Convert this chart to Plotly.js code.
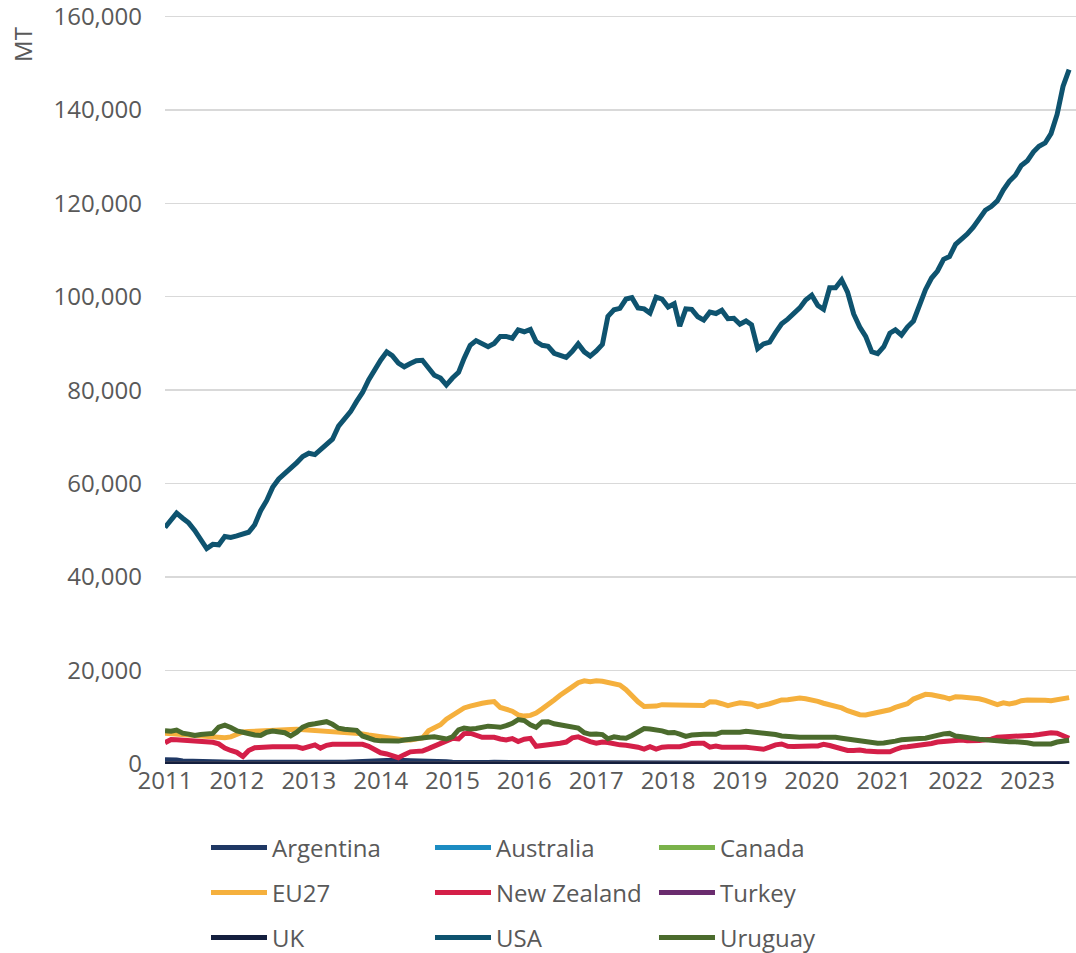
<!DOCTYPE html>
<html><head><meta charset="utf-8">
<script src="https://cdn.plot.ly/plotly-3.0.1.min.js"></script>
<style>html,body{margin:0;padding:0;background:#fff}#chart{width:1076px;height:953px}</style>
</head><body><div id="chart"></div>
<script>
const years = [2011,2012,2013,2014,2015,2016,2017,2018,2019,2020,2021,2022,2023];
const monthNums = ['01','02','03','04','05','06','07','08','09','10','11','12'];
const months = [];
for (const y of years) for (const m of monthNums) months.push(y + '-' + m + '-01');

const argentina = [900,1000,850,650,600,550,600,650,650,550,450,350,
300,300,350,300,250,250,300,350,350,300,300,350,
400,400,450,450,500,450,400,450,450,500,550,600,
700,750,800,800,750,700,700,650,650,600,550,500,
400,350,350,300,300,300,300,350,350,350,350,300,
300,300,250,250,250,300,300,300,300,300,250,250,
200,200,200,200,200,200,250,250,300,300,300,300,
300,300,350,350,300,300,250,250,200,200,150,150,
100,100,100,100,100,100,100,100,100,100,100,100,
100,100,100,100,50,50,50,50,50,50,50,50,
50,50,50,50,50,50,50,50,50,50,50,50,
50,50,50,50,50,50,50,50,50,50,50,50,
50,50,50,50,50,50,50,50];
const australia = [0,0,0,0,0,0,0,0,0,0,0,0,0,0,0,0,0,0,0,0,0,0,0,0,
0,0,0,0,0,0,0,0,0,0,0,0,0,0,0,0,0,0,0,0,0,0,0,0,
0,0,0,0,0,0,0,0,0,0,0,0,0,0,0,0,0,0,0,0,0,0,0,0,
0,0,0,0,0,0,0,0,0,0,0,0,0,0,0,0,0,0,0,0,0,0,0,0,
0,0,0,0,0,0,0,0,0,0,0,0,0,0,0,0,0,0,0,0,0,0,0,0,
0,0,0,0,0,0,0,0,0,0,0,0,0,0,0,0,0,0,0,0,0,0,0,0,
0,0,0,0,0,0,0,0];
const canada = [0,0,0,0,0,0,0,0,0,0,0,0,0,0,0,0,0,0,50,100,150,200,250,250,
250,250,250,200,200,200,200,150,150,150,150,150,150,150,150,150,200,200,200,200,200,200,200,200,
200,200,150,150,150,150,150,150,150,150,100,100,100,100,100,100,100,100,100,100,100,100,50,50,
50,50,50,50,50,50,0,0,0,0,0,0,0,0,0,0,0,0,0,0,0,0,
0,0,0,0,0,0,0,0,0,0,0,0,0,0,0,0,0,0,0,0,0,0,0,0,
0,0,0,0,0,0,0,0,0,0,0,0,0,0,0,0,0,0,0,0,0,0,0,0,
0,0,0,0,0,0,0,0];
const eu27 = [6600,6500,6300,6200,6100,5950,5850,5750,5650,5600,5600,5800,
6300,6850,6950,7050,7100,7150,7200,7250,7300,7400,7420,7350,
7270,7150,7050,6950,6800,6700,6700,6700,6650,6450,6200,6000,
5850,5600,5400,5200,5150,5150,5300,5560,7100,7700,8400,9600,
10400,11300,12000,12400,12800,13000,13200,13350,12100,11700,11300,10500,
10250,10400,10900,11800,12600,13700,14700,15500,16500,17400,17800,17600,
17800,17700,17500,17200,16900,15900,14500,13300,12300,12300,12400,12700,
12700,12650,12600,12550,12500,12450,12500,13300,13250,12900,12500,12800,
13100,12950,12800,12300,12500,12900,13300,13700,13750,14000,14100,13950,
13750,13400,13000,12700,12500,12000,11400,10900,10550,10500,10800,10950,
11150,11600,12100,12500,12900,13900,14400,14900,14800,14650,14300,13950,
14400,14350,14250,14150,13950,13600,13200,12700,13100,12850,13100,13550,
13700,13750,13750,13650,13550,13800,14050,14200];
const newZealand = [4560,5250,5200,5130,5000,4850,4750,4700,4650,4300,3400,2900,
2500,1600,2900,3500,3620,3700,3710,3710,3710,3710,3680,3350,
3800,4100,3400,4000,4210,4250,4280,4270,4250,4210,3800,3000,
2400,2150,1700,1350,2000,2600,2700,2780,3300,3800,4400,4950,
5490,5350,6500,6600,6100,5700,5700,5700,5350,5150,5450,4800,
5300,5490,3800,3900,4210,4350,4450,4700,5600,5800,5200,4800,
4450,4700,4600,4300,4100,4000,3900,3600,3200,3700,3200,3600,
3710,3700,3700,4000,4400,4420,4420,3600,3850,3600,3650,3710,
3650,3560,3450,3300,3150,3600,4100,4280,3800,3750,3850,3850,
3850,3860,4210,3950,3600,3250,2900,2900,3000,2800,2630,2630,
2630,2630,3100,3560,3700,3850,3950,4150,4400,4700,4850,5000,
5250,5150,5000,4920,5050,5200,5300,5750,5800,5700,5750,5800,
5900,6150,6300,6550,6700,6600,6100,5500];
const turkey = [0,0,0,0,0,0,0,0,0,0,0,0,0,0,0,0,0,0,0,0,0,0,0,0,
0,0,0,0,0,0,0,0,0,0,0,0,0,0,0,0,0,0,0,0,0,0,0,0,
0,0,0,0,0,0,0,0,0,0,0,0,0,0,0,0,0,0,0,0,0,0,0,0,
0,0,0,0,0,0,0,0,0,0,0,0,0,0,0,0,0,0,0,0,0,0,0,0,
0,0,0,0,0,0,0,0,0,0,0,0,0,0,0,0,0,0,0,0,0,0,0,0,
0,0,0,0,0,0,0,0,0,0,0,0,0,0,0,0,0,0,0,0,0,0,0,0,
0,0,0,0,0,0,0,0];
const uk = [0,0,0,0,0,0,0,0,0,0,0,0,0,0,0,0,0,0,0,0,0,0,0,0,
0,0,0,0,0,0,0,0,0,0,0,0,0,0,0,0,0,0,0,0,0,0,0,0,
0,0,0,0,0,0,0,0,0,0,0,0,0,0,0,0,0,0,0,0,0,0,0,0,
0,0,0,0,0,0,0,0,0,0,0,0,0,0,0,0,0,0,0,0,0,0,0,0,
0,0,0,0,0,0,0,0,0,0,0,0,0,0,0,0,0,0,0,0,0,0,0,0,
0,0,0,0,0,0,0,0,0,0,0,0,0,0,0,0,0,0,0,0,0,0,0,0,
0,0,0,0,0,0,0,0];
const usa = [50600,52400,53700,52600,51600,50000,48000,46100,47000,46900,48700,48500,
48800,49100,49600,51200,54200,56400,59200,61000,62100,63500,64500,65800,
66500,66200,67200,68400,69500,72300,73700,75400,77600,79500,82200,84500,
86400,88200,87400,85800,85000,85700,86300,86400,84800,83200,82600,81100,
82600,83800,86800,89600,90600,89900,89300,90000,91500,91500,91100,92900,
92500,93000,90400,89600,89400,87900,87500,87000,88300,89900,88200,87300,
88400,89800,95800,97200,97500,99500,99800,97600,97400,96500,99900,99500,
97800,98500,93700,97400,97300,95700,95000,96700,96400,97100,95300,95400,
94100,94800,94000,88900,89900,90300,92300,94200,95200,96400,97600,99300,
100300,98100,97300,101900,101900,103600,101000,96300,93500,91500,88200,87800,
89300,92200,92900,91800,93500,94800,98300,101500,104000,105500,108000,108600,
111200,112200,113400,114900,116900,118500,119300,120500,122900,124700,126000,128100,
129100,131000,132200,132900,134900,139000,145000,148600];
const uruguay = [7100,7000,7250,6600,6400,6100,6300,6500,6550,7900,8300,7800,
7100,6800,6450,6200,6100,6800,7050,6800,6700,6000,6800,7900,
8400,8600,8900,9050,8500,7650,7420,7420,7200,6000,5400,5100,
4950,4850,4800,4900,5150,5350,5500,5630,5700,5840,5600,5350,
5800,7300,7700,7500,7600,7900,8100,8000,7850,8200,8700,9500,
9300,8400,7850,9000,9050,8600,8400,8250,8100,7700,6700,6350,
6420,6300,5400,5800,5600,5500,6100,6900,7600,7500,7400,7100,
6700,6750,6400,5900,6200,6350,6350,6350,6350,6800,6800,6560,
6800,7000,6900,6850,6750,6600,6300,6000,5850,5800,5750,5700,
5700,5750,5800,5840,5700,5500,5350,5100,4800,4640,4550,4450,
4500,4640,4900,5200,5350,5450,5480,5500,5850,6200,6450,6550,
6000,5850,5600,5450,5300,5200,5050,5000,4800,4780,4780,4780,
4550,4300,4280,4280,4300,4700,4850,5100];

const series = [
  {name:'Argentina', y:argentina, color:'#1f3864', legend:'legend'},
  {name:'Australia', y:australia, color:'#1c8cc2', legend:'legend'},
  {name:'Canada', y:canada, color:'#7ab24a', legend:'legend'},
  {name:'EU27', y:eu27, color:'#f5b03d', legend:'legend2'},
  {name:'New Zealand', y:newZealand, color:'#d41f48', legend:'legend2'},
  {name:'Turkey', y:turkey, color:'#6a2c6e', legend:'legend2'},
  {name:'UK', y:uk, color:'#141f3e', legend:'legend3'},
  {name:'USA', y:usa, color:'#0e536f', legend:'legend3'},
  {name:'Uruguay', y:uruguay, color:'#4b6b2d', legend:'legend3'}
];

const traces = series.map(s => ({
  type:'scatter', mode:'lines', name:s.name, x:months.slice(0, s.y.length), y:s.y,
  line:{color:s.color, width:5, shape:'linear'}, legend:s.legend, hoverinfo:'skip'
}));

const legendBase = {orientation:'h', xanchor:'left', yanchor:'middle', x:0.045,
  entrywidth:153, entrywidthmode:'pixels', itemwidth:56, bgcolor:'rgba(0,0,0,0)',
  font:{family:'"Open Sans", sans-serif', size:24, color:'#595959'}, traceorder:'normal'};

const layout = {
  width:1076, height:953,
  margin:{l:165, r:0, t:14, b:189, autoexpand:false},
  paper_bgcolor:'#ffffff', plot_bgcolor:'#ffffff',
  font:{family:'"Open Sans", sans-serif', size:24, color:'#595959'},
  xaxis:{type:'date', range:['2011-01-01','2023-09-05'], tick0:'2011-01-01', dtick:'M12',
    tickformat:'%Y', showgrid:false, zeroline:false, showline:false, ticks:'',
    tickfont:{size:24, color:'#595959'}},
  yaxis:{range:[0,160500], dtick:20000, tickformat:',', gridcolor:'#d9d9d9', gridwidth:1.5,
    zeroline:false, showline:false, ticks:'', ticklabelstandoff:22, ticklabeloverflow:'allow',
    tickfont:{size:24, color:'#595959'}},
  showlegend:true,
  legend:Object.assign({}, legendBase, {y:-0.112}),
  legend2:Object.assign({}, legendBase, {y:-0.172}),
  legend3:Object.assign({}, legendBase, {y:-0.232}),
  annotations:[{text:'MT', xref:'paper', yref:'paper', x:-0.176, y:0.985, textangle:-90,
    showarrow:false, font:{size:24, color:'#595959'}}]
};

Plotly.newPlot('chart', traces, layout, {staticPlot:true, displayModeBar:false});
</script>
</body></html>
